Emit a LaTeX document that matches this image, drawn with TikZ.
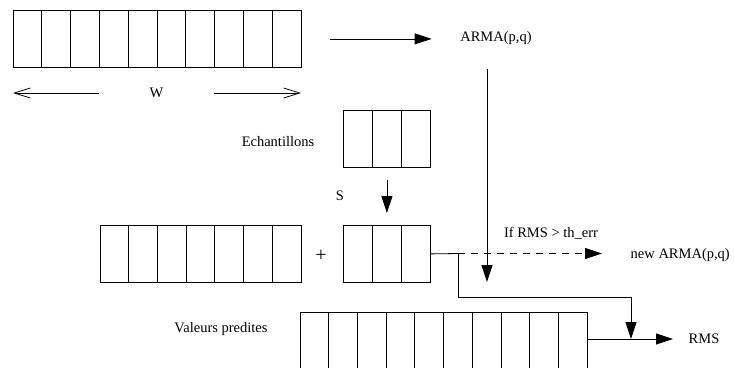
\documentclass[tikz,border=0pt]{standalone}
\usepackage{fontspec}
\setmainfont{Liberation Serif}
\usetikzlibrary{arrows.meta}

\begin{document}
\begin{tikzpicture}[x=1pt,y=-1pt,line width=0.8pt,
    >={Triangle[length=17pt,width=11pt]},
    cellrow/.style={draw,inner sep=0pt,minimum height=57pt,anchor=north west},
    txt/.style={font=\fontsize{14.5}{17}\selectfont}]
    \clip (0,0) rectangle (734,367);

    % input window
    \node[cellrow,minimum width=288pt] (win) at (13,10) {};
    \foreach \i in {1,...,9}
        \draw ([xshift=\i*28.8pt]win.north west) -- ([xshift=\i*28.8pt]win.south west);
    \node[txt,minimum width=115pt] (wlen) at (156.5,93) {W};
    \coordinate (wl) at (13,93);
    \coordinate (wr) at (301,93);
    \draw[-{Straight Barb[length=16pt,width=10pt]}] (wlen) -- (wl);
    \draw[-{Straight Barb[length=16pt,width=10pt]}] (wlen) -- (wr);

    \node[txt] (arma) at (496,38.5) {ARMA(p,q)};
    \draw[->,shorten <=28pt,shorten >=25pt] (win.east) -- (win.east -| arma.west);

    % samples
    \node[cellrow,minimum width=87pt] (ech) at (343,110) {};
    \foreach \i in {1,2}
        \draw ([xshift=\i*29pt]ech.north west) -- ([xshift=\i*29pt]ech.south west);
    \node[txt] (echtxt) at (278,142) {Echantillons};

    \node[cellrow,minimum width=201pt] (hist) at (100,225) {};
    \foreach \i in {1,...,6}
        \draw ([xshift=\i*28.714pt]hist.north west) -- ([xshift=\i*28.714pt]hist.south west);
    \node[cellrow,minimum width=87pt] (smp) at (343,225) {};
    \foreach \i in {1,2}
        \draw ([xshift=\i*29pt]smp.north west) -- ([xshift=\i*29pt]smp.south west);
    \node[font=\fontsize{20}{24}\selectfont] (plus) at (321,256) {+};

    \draw[->,shorten <=12pt,shorten >=12pt] (ech) -- (smp);
    \node[txt] (slbl) at (340,196) {S};

    % error check
    \coordinate (hit) at (487,282);
    \draw[->,shorten <=20pt] (arma.south -| hit) -- (hit);

    \coordinate (split) at (458,253.5);
    \node[txt,anchor=west] (newarma) at (627,255) {new ARMA(p,q)};
    \node[txt] (cond) at (551,233) {If RMS > th\_err};
    \draw (smp.east) -- (split);
    \draw[dash pattern=on 7pt off 6pt,->,shorten >=25pt] (split) -- (split -| newarma.west);

    % predicted values
    \node[cellrow,minimum width=287pt,minimum height=70pt] (pred) at (300,312) {};
    \foreach \i in {1,...,9}
        \draw ([xshift=\i*28.7pt]pred.north west) -- ([xshift=\i*28.7pt]pred.south west);
    \node[txt] (predtxt) at (221,329) {Valeurs predites};

    \coordinate (join) at (631,339);
    \draw[->] (split) -- (split |- 0,297) -| (join);
    \node[txt,anchor=west] (rms) at (685,339) {RMS};
    \draw[->,shorten >=12pt] (pred.north east |- join) -- (rms.west);
\end{tikzpicture}
\end{document}
